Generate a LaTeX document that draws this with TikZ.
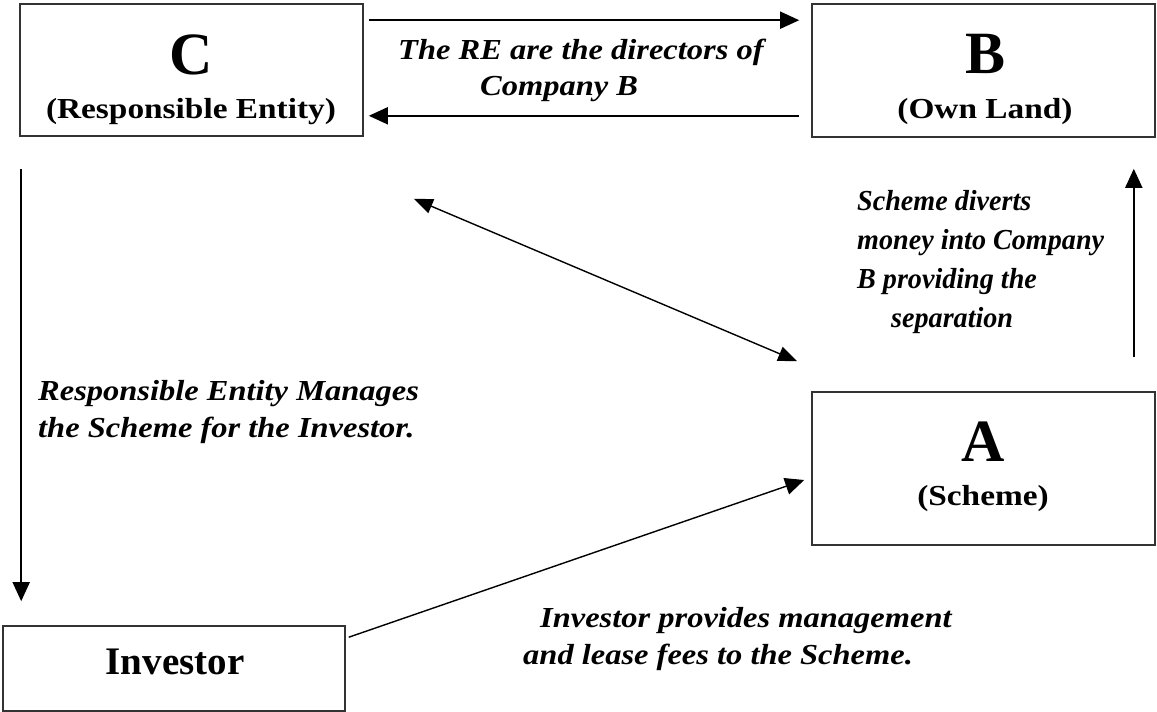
\documentclass[tikz,border=0pt]{standalone}
\usepackage{fontspec}
\setmainfont{Liberation Serif}[FakeStretch=1.15]
\newfontfamily\bigserif{Liberation Serif}
\newfontfamily\noteserif{Liberation Serif}[FakeStretch=1.12]
\newfontfamily\narrowserif{Liberation Serif}[FakeStretch=0.97]
\usetikzlibrary{arrows.meta,calc}
\begin{document}
\begin{tikzpicture}[x=1pt,y=-1pt,
  box/.style={draw=black!80,line width=1.6pt,inner sep=0pt},
  big/.style={font=\bigserif\bfseries\fontsize{60}{60}\selectfont,inner sep=0pt},
  sub/.style={font=\bfseries\fontsize{29}{29}\selectfont,inner sep=0pt},
  note/.style={font=\noteserif\bfseries\itshape\fontsize{29}{36}\selectfont,inner sep=0pt,align=left,anchor=west},
  arr/.style={line width=1.8pt,-{Triangle[length=19pt,width=17pt]}},
  darr/.style={line width=1.4pt,{Triangle[length=19pt,width=15pt]}-{Triangle[length=19pt,width=15pt]}}]
\useasboundingbox (0,0) rectangle (1157,712);
% boxes
\node[box,minimum width=343pt,minimum height=132pt] (C) at (191.5,70) {};
\node[box,minimum width=343pt,minimum height=133pt] (B) at (983.5,70.5) {};
\node[box,minimum width=343pt,minimum height=153pt] (A) at (983.5,468.5) {};
\node[box,minimum width=342pt,minimum height=85pt] (Inv) at (174,668.5) {};
% box texts
\node[big] (Cl) at (191,55) {C};
\node[sub] (Cs) at (191,112) {(Responsible Entity)};
\node[big] (Bl) at (985,54) {B};
\node[sub] (Bs) at (985,112) {(Own Land)};
\node[big] (Al) at (983,442) {A};
\node[sub] (As) at (983,499) {(Scheme)};
\node[font=\bigserif\bfseries\fontsize{39}{39}\selectfont,inner sep=0pt] (Il) at (175,662) {Investor};
% notes
\node[note] (n1) at (398,70) {The RE are the directors of\\\hspace*{82pt}Company B};
\node[note,font=\narrowserif\bfseries\itshape\fontsize{29}{39}\selectfont] (n2) at (857,262) {Scheme diverts\\money into Company\\B providing the\\\hspace*{34pt}separation};
\node[note,font=\noteserif\bfseries\itshape\fontsize{29}{37}\selectfont] (n3) at (38,412) {Responsible Entity Manages\\the Scheme for the Investor.};
\node[note,font=\noteserif\bfseries\itshape\fontsize{29}{37}\selectfont] (n4) at (523,639) {\hspace*{17pt}Investor provides management\\and lease fees to the Scheme.};
% connectors
\draw[arr] ($(C.north east)+(5,17)$) -- ($(B.north west)+(-12,17)$);
\draw[arr] ($(B.south west)+(-12,-22)$) -- ($(C.south east)+(5,-21)$);
\draw[arr] ($(C.south west)+(2,32)$) -- ($(Inv.north west)+(19,-24)$);
\draw[darr] ($(C.south east)+(50,62)$) -- ($(A.north west)+(-14,-30)$);
\draw[arr] ($(A.north east)+(-22,-34)$) -- ($(B.south east)+(-22,31)$);
\draw[arr,line width=1.4pt] ($(Inv.north east)+(3,12)$) -- ($(A.west)+(-7,11.5)$);
\end{tikzpicture}
\end{document}
